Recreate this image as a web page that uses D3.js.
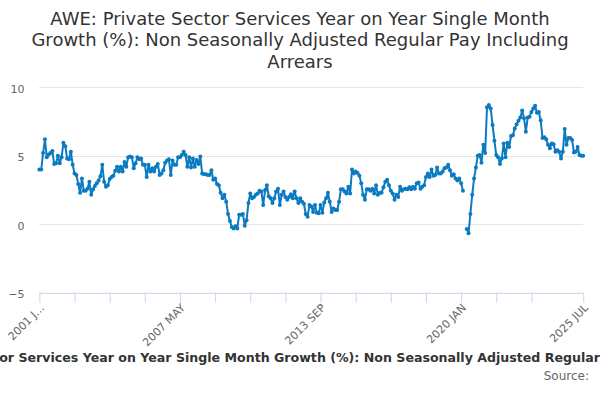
<!DOCTYPE html>
<html>
<head>
<meta charset="utf-8">
<script src="https://cdn.jsdelivr.net/npm/d3@7"></script>
<style>
  html, body { margin: 0; padding: 0; background: #fff; }
  svg { display: block; font-family: "DejaVu Sans", Verdana, sans-serif; }
</style>
</head>
<body>
<svg id="chart" width="600" height="400"></svg>
<script>
// Monthly series starting 2001 JAN, ending 2025 JUL (null = missing month)
const startYear = 2001;
const monthNames = ["JAN","FEB","MAR","APR","MAY","JUN","JUL","AUG","SEP","OCT","NOV","DEC"];

const values2001to2012 = [
  4.0, 4.0, 5.2, 6.2, 4.9, 5.1, 5.2, 5.35, 4.4, 4.45, 5.0, 4.45, 4.9, 5.95, 5.7, 4.8, 4.75, 5.3, 4.35, 3.7,
  3.6, 2.95, 2.3, 3.35, 2.45, 2.45, 2.6, 3.1, 2.15, 2.55, 2.8, 3.0, 3.2, 3.5, 4.35, 3.1, 2.75, 2.85, 3.3, 3.45,
  3.55, 3.9, 4.2, 3.85, 4.2, 3.85, 4.55, 4.2, 4.9, 4.95, 4.9, 4.1, 4.45, 4.9, 4.75, 4.8, 4.35, 4.35, 3.45, 4.35,
  3.85, 4.1, 3.85, 4.2, 4.4, 3.6, 3.7, 3.95, 4.5, 4.65, 4.75, 3.6, 4.65, 4.35, 4.35, 4.9, 4.9, 5.05, 5.3, 5.05,
  4.2, 4.9, 4.15, 4.8, 4.2, 4.7, 4.4, 4.95, 3.7, 3.65, 3.65, 3.6, 3.6, 3.95, 3.25, 3.35, 2.95, 2.85, 2.3, 1.9,
  2.15, 1.65, 0.75, 0.25, -0.2, -0.3, -0.15, -0.3, 0.7, 0.7, 0.75, -0.1, 0.3, 1.55, 2.25, 1.9, 2.0, 2.15, 2.25, 2.45,
  2.4, 1.4, 2.5, 2.85, 2.05, 1.9, 1.55, 1.9, 2.4, 2.6, 1.4, 2.15, 2.4, 2.0, 1.8, 2.0, 2.2, 1.9, 2.4, 1.9,
  1.55
];
const values2012to2020 = [
  1.9, 1.65, 1.5, 0.75, 0.55, 1.4, 1.3, 0.9, 1.4, 0.85, 0.8, 1.4, 0.85, 1.6, 1.9, 2.3, 1.65, 0.9, 1.15, 1.05,
  1.05, 1.65, 2.55, 2.55, 2.4, 2.25, 2.75, 2.25, 4.0, 3.7, 3.85, 3.75, 3.55, 3.0, 2.15, 1.8, 2.55, 2.55, 2.45, 2.6,
  2.25, 2.85, 2.15, 2.3, 2.3, 2.7, 3.1, 3.25, 2.85, 2.45, 2.25, 1.8, 2.15, 2.0, 2.75, 2.45, 2.55, 2.6, 2.55, 2.7,
  2.55, 2.75, 2.6, 3.0, 3.05, 2.6, 2.75, 2.85, 3.45, 3.7, 3.45, 4.0, 3.55, 3.6, 4.15, 3.7, 3.7, 3.85, 4.1, 4.15,
  4.35, 3.95, 3.55, 3.65, 3.35, 3.2, 3.35, 3.0, 2.45
];
const valuesMissing = [null];
const values2020to2025 = [
  -0.35, -0.65, 0.75, 2.15, 3.35, 4.15, 5.0, 5.05, 4.5, 5.8, 5.2, 8.55, 8.7, 8.45, 7.25, 6.1, 5.05, 4.9, 4.4, 4.8,
  5.9, 4.9, 5.95, 5.65, 6.45, 6.5, 7.0, 7.3, 7.55, 7.8, 8.3, 7.75, 6.75, 7.8, 7.85, 8.2, 8.45, 8.65, 8.15, 8.2,
  7.6, 6.3, 6.35, 6.2, 5.8, 5.55, 5.9, 5.85, 5.3, 5.4, 5.3, 4.8, 5.3, 6.95, 5.8, 6.3, 6.3, 6.15, 5.25, 5.3,
  5.65, 5.05, 5.0, 5.0
];
const values = [].concat(values2001to2012, values2012to2020, valuesMissing, values2020to2025);
const categories = values.map((v, i) => (startYear + Math.floor(i / 12)) + " " + monthNames[i % 12]);

const xTickIndex = [0, 19, 38, 57, 76, 95, 114, 133, 152, 171, 190, 209, 228, 247, 266, 294];
const xLabelIndex = [0, 76, 152, 228, 294];
const xLabelText = ["2001 J\u2026", "2007 MAY", "2013 SEP", "2020 JAN", "2025 JUL"];
const yTicks = [-5, 0, 5, 10];

const titleLines = [
  "AWE: Private Sector Services Year on Year Single Month",
  "Growth (%): Non Seasonally Adjusted Regular Pay Including",
  "Arrears"
];
const axisTitle = "AWE: Private Sector Services Year on Year Single Month Growth (%): Non Seasonally Adjusted Regular Pay Including Arrears";
const sourceText = "Source:";

// ---- drawing ----
const svg = d3.select("#chart");
const plotLeft = 39.4, plotRight = 583.2, plotTop = 87.3, plotBottom = 292.8;

const x = d3.scaleLinear().domain([0, values.length - 1]).range([plotLeft, plotRight]);
const y = d3.scaleLinear().domain([-5, 10]).range([plotBottom, plotTop]);

// title
svg.append("g").selectAll("text").data(titleLines).join("text")
  .attr("x", 300).attr("y", (d, i) => 24.5 + i * 21.5)
  .attr("text-anchor", "middle")
  .attr("fill", "#333333").attr("font-size", "18px")
  .text(d => d);

// gridlines + y labels
const yAxis = d3.axisLeft(y).tickValues(yTicks).tickSize(-(plotRight - plotLeft)).tickPadding(15)
  .tickFormat(d3.format("d"));
const gy = svg.append("g").attr("transform", `translate(${plotLeft},0)`).call(yAxis);
gy.select(".domain").remove();
gy.selectAll(".tick line").attr("stroke", "#e6e6e6").attr("stroke-width", 1)
  .attr("shape-rendering", "crispEdges");
gy.selectAll(".tick text").attr("fill", "#666666").attr("font-size", "11px")
  .attr("font-family", "DejaVu Sans, sans-serif").attr("dy", "0.45em");

// x axis
const xAxis = d3.axisBottom(x).tickValues(xTickIndex).tickSize(10).tickFormat("");
const gx = svg.append("g").attr("transform", `translate(0,${plotBottom})`).call(xAxis);
gx.select(".domain").attr("stroke", "#ccd6eb").attr("d", `M${plotLeft},0.5H${plotRight}`);
gx.selectAll(".tick line").attr("stroke", "#ccd6eb");
gx.selectAll(".tick text").remove();

svg.append("g").selectAll("text").data(xLabelIndex).join("text")
  .attr("transform", d => `translate(${x(d) + 3},${plotBottom + 13}) rotate(-45)`)
  .attr("text-anchor", "end")
  .attr("dy", "0.35em")
  .attr("fill", "#666666").attr("font-size", "11px")
  .text((d, i) => xLabelText[i]);

// line
const line = d3.line().defined(d => d != null).x((d, i) => x(i)).y(d => y(d));
svg.append("path").datum(values)
  .attr("fill", "none").attr("stroke", "#0b7bc1").attr("stroke-width", 2)
  .attr("stroke-linejoin", "round").attr("stroke-linecap", "round")
  .attr("d", line);

svg.append("g").selectAll("circle")
  .data(values.map((v, i) => ({ v, i })).filter(d => d.v != null))
  .join("circle")
  .attr("cx", d => x(d.i)).attr("cy", d => y(d.v)).attr("r", 2)
  .attr("fill", "#0b7bc1");

// axis title (overflowing, centered on plot)
svg.append("text")
  .attr("x", (plotLeft + plotRight) / 2 + 3).attr("y", 362)
  .attr("text-anchor", "middle")
  .attr("font-weight", "bold").attr("font-size", "12.6px").attr("fill", "#333333")
  .text(axisTitle);

svg.append("text")
  .attr("x", 589).attr("y", 380)
  .attr("text-anchor", "end")
  .attr("font-size", "12px").attr("fill", "#666666")
  .text(sourceText);
</script>
</body>
</html>
